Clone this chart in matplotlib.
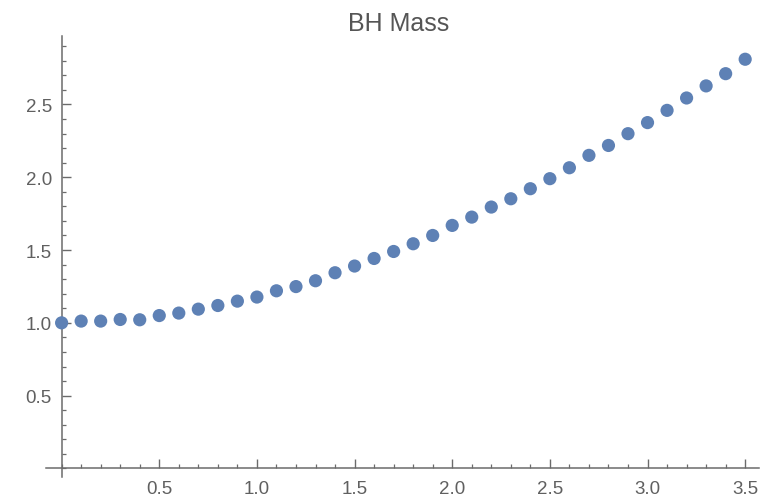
import matplotlib
matplotlib.use("Agg")
import matplotlib.pyplot as plt
from matplotlib.ticker import MultipleLocator, FixedLocator

title = "BH Mass"
x_vals = [0.0, 0.1, 0.2, 0.3, 0.4, 0.5, 0.6, 0.7, 0.8, 0.9,
          1.0, 1.1, 1.2, 1.3, 1.4, 1.5, 1.6, 1.7, 1.8, 1.9,
          2.0, 2.1, 2.2, 2.3, 2.4, 2.5, 2.6, 2.7, 2.8, 2.9,
          3.0, 3.1, 3.2, 3.3, 3.4, 3.5]
mass = [1.000, 1.012, 1.012, 1.023, 1.021, 1.050, 1.067, 1.094, 1.119, 1.149,
        1.177, 1.220, 1.249, 1.289, 1.344, 1.390, 1.442, 1.490, 1.543, 1.600,
        1.669, 1.726, 1.795, 1.852, 1.921, 1.990, 2.065, 2.150, 2.218, 2.299,
        2.375, 2.459, 2.544, 2.627, 2.711, 2.810]
x_ticks = [0.5, 1.0, 1.5, 2.0, 2.5, 3.0, 3.5]
y_ticks = [0.5, 1.0, 1.5, 2.0, 2.5]

plt.rcParams['font.family'] = ['Liberation Sans', 'DejaVu Sans']

fig = plt.figure(figsize=(7.69, 5.02), dpi=100)
ax = fig.add_axes([0.0598, 0.0474, 0.927, 0.879])

ax.scatter(x_vals, mass, s=90, color='#5E81B5', edgecolors='none', zorder=3, clip_on=False)

ax.set_xlim(-0.08, 3.57)
ax.set_ylim(-0.06, 2.97)

axis_col = '#6b6b6b'
for side in ['top', 'right']:
    ax.spines[side].set_visible(False)
ax.spines['left'].set_position(('data', 0))
ax.spines['bottom'].set_position(('data', 0))
for side in ['left', 'bottom']:
    ax.spines[side].set_color(axis_col)
    ax.spines[side].set_linewidth(1.1)

ax.xaxis.set_major_locator(FixedLocator(x_ticks))
ax.yaxis.set_major_locator(FixedLocator(y_ticks))
ax.xaxis.set_minor_locator(MultipleLocator(0.1))
ax.yaxis.set_minor_locator(MultipleLocator(0.1))
ax.set_xticklabels([f"{v:.1f}" for v in x_ticks])
ax.set_yticklabels([f"{v:.1f}" for v in y_ticks])

ax.tick_params(axis='both', which='major', direction='in', length=6.5, width=1.0,
               color=axis_col, labelcolor='#606060', labelsize=13.5)
ax.tick_params(axis='both', which='minor', direction='in', length=3.2, width=0.9,
               color=axis_col)
ax.tick_params(axis='x', which='major', pad=8)
ax.tick_params(axis='y', which='major', pad=7)

fig.text(0.518, 0.953, title, ha='center', va='center', fontsize=18, color='#555555')

fig.savefig('out.png', dpi=100)
